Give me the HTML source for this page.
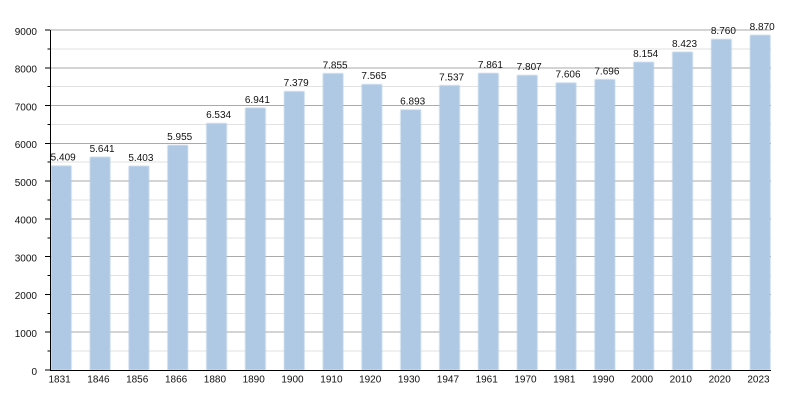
<!DOCTYPE html>
<html>
<head>
<meta charset="utf-8">
<style>
html,body{margin:0;padding:0;background:#fff;}
svg{display:block;}
text{font-family:"Liberation Sans",Arial,sans-serif;font-size:10px;fill:#111;}
</style>
</head>
<body>
<svg width="800" height="400" viewBox="0 0 800 400" xmlns="http://www.w3.org/2000/svg">
<defs>
<filter id="soft" x="-10%" y="-2%" width="120%" height="104%">
<feGaussianBlur stdDeviation="0.5"/>
</filter>
</defs>
<!-- minor gridlines -->
<g stroke="#e2e2e2" stroke-width="1" shape-rendering="crispEdges">
<line x1="50" x2="771" y1="351.1" y2="351.1"/>
<line x1="50" x2="771" y1="313.3" y2="313.3"/>
<line x1="50" x2="771" y1="275.6" y2="275.6"/>
<line x1="50" x2="771" y1="237.8" y2="237.8"/>
<line x1="50" x2="771" y1="200.0" y2="200.0"/>
<line x1="50" x2="771" y1="162.2" y2="162.2"/>
<line x1="50" x2="771" y1="124.4" y2="124.4"/>
<line x1="50" x2="771" y1="86.7" y2="86.7"/>
<line x1="50" x2="771" y1="48.9" y2="48.9"/>
</g>
<!-- major gridlines -->
<g stroke="#aaaaaa" stroke-width="1" shape-rendering="crispEdges">
<line x1="50" x2="771" y1="332.2" y2="332.2"/>
<line x1="50" x2="771" y1="294.4" y2="294.4"/>
<line x1="50" x2="771" y1="256.7" y2="256.7"/>
<line x1="50" x2="771" y1="218.9" y2="218.9"/>
<line x1="50" x2="771" y1="181.1" y2="181.1"/>
<line x1="50" x2="771" y1="143.3" y2="143.3"/>
<line x1="50" x2="771" y1="105.6" y2="105.6"/>
<line x1="50" x2="771" y1="67.8" y2="67.8"/>
<line x1="50" x2="771" y1="30" y2="30"/>
</g>
<!-- bars -->
<g fill="#afc9e4" filter="url(#soft)">
<rect x="51" y="165.66" width="20.5" height="204.34"/>
<rect x="89.83" y="156.90" width="20.5" height="213.10"/>
<rect x="128.66" y="165.89" width="20.5" height="204.11"/>
<rect x="167.49" y="145.03" width="20.5" height="224.97"/>
<rect x="206.32" y="123.16" width="20.5" height="246.84"/>
<rect x="245.15" y="107.78" width="20.5" height="262.22"/>
<rect x="283.98" y="91.24" width="20.5" height="278.76"/>
<rect x="322.81" y="73.26" width="20.5" height="296.74"/>
<rect x="361.64" y="84.21" width="20.5" height="285.79"/>
<rect x="400.47" y="109.60" width="20.5" height="260.40"/>
<rect x="439.30" y="85.27" width="20.5" height="284.73"/>
<rect x="478.13" y="73.03" width="20.5" height="296.97"/>
<rect x="516.96" y="75.07" width="20.5" height="294.93"/>
<rect x="555.79" y="82.66" width="20.5" height="287.34"/>
<rect x="594.62" y="79.26" width="20.5" height="290.74"/>
<rect x="633.45" y="61.96" width="20.5" height="308.04"/>
<rect x="672.28" y="51.80" width="20.5" height="318.20"/>
<rect x="711.11" y="39.07" width="20.5" height="330.93"/>
<rect x="749.94" y="34.91" width="20.5" height="335.09"/>
</g>
<!-- axes -->
<g stroke="#000" stroke-width="1" shape-rendering="crispEdges">
<line x1="50.5" x2="50.5" y1="30" y2="370.5"/>
<line x1="50" x2="771" y1="370.5" y2="370.5"/>
<!-- major ticks -->
<line x1="45" x2="50" y1="370" y2="370"/>
<line x1="45" x2="50" y1="332.2" y2="332.2"/>
<line x1="45" x2="50" y1="294.4" y2="294.4"/>
<line x1="45" x2="50" y1="256.7" y2="256.7"/>
<line x1="45" x2="50" y1="218.9" y2="218.9"/>
<line x1="45" x2="50" y1="181.1" y2="181.1"/>
<line x1="45" x2="50" y1="143.3" y2="143.3"/>
<line x1="45" x2="50" y1="105.6" y2="105.6"/>
<line x1="45" x2="50" y1="67.8" y2="67.8"/>
<line x1="45" x2="50" y1="30" y2="30"/>
<!-- minor ticks -->
<line x1="47.5" x2="50" y1="351.1" y2="351.1"/>
<line x1="47.5" x2="50" y1="313.3" y2="313.3"/>
<line x1="47.5" x2="50" y1="275.6" y2="275.6"/>
<line x1="47.5" x2="50" y1="237.8" y2="237.8"/>
<line x1="47.5" x2="50" y1="200.0" y2="200.0"/>
<line x1="47.5" x2="50" y1="162.2" y2="162.2"/>
<line x1="47.5" x2="50" y1="124.4" y2="124.4"/>
<line x1="47.5" x2="50" y1="86.7" y2="86.7"/>
<line x1="47.5" x2="50" y1="48.9" y2="48.9"/>
</g>
<!-- y labels -->
<g text-anchor="end">
<text x="37" y="375">0</text>
<text x="37" y="337">1000</text>
<text x="37" y="299.2">2000</text>
<text x="37" y="261.5">3000</text>
<text x="37" y="223.7">4000</text>
<text x="37" y="185.9">5000</text>
<text x="37" y="148.1">6000</text>
<text x="37" y="110.4">7000</text>
<text x="37" y="72.6">8000</text>
<text x="37" y="34.8">9000</text>
</g>
<!-- x labels -->
<g text-anchor="middle">
<text x="59.6" y="382.5">1831</text>
<text x="98.4" y="382.5">1846</text>
<text x="137.2" y="382.5">1856</text>
<text x="176.1" y="382.5">1866</text>
<text x="214.9" y="382.5">1880</text>
<text x="253.7" y="382.5">1890</text>
<text x="292.5" y="382.5">1900</text>
<text x="331.4" y="382.5">1910</text>
<text x="370.2" y="382.5">1920</text>
<text x="409.0" y="382.5">1930</text>
<text x="447.9" y="382.5">1947</text>
<text x="486.7" y="382.5">1961</text>
<text x="525.5" y="382.5">1970</text>
<text x="564.3" y="382.5">1981</text>
<text x="603.2" y="382.5">1990</text>
<text x="642.0" y="382.5">2000</text>
<text x="680.8" y="382.5">2010</text>
<text x="719.7" y="382.5">2020</text>
<text x="758.5" y="382.5">2023</text>
</g>
<!-- value labels -->
<g text-anchor="middle">
<text x="63.2" y="160.7">5.409</text>
<text x="102.1" y="151.9">5.641</text>
<text x="140.9" y="160.9">5.403</text>
<text x="179.7" y="140.0">5.955</text>
<text x="218.6" y="118.2">6.534</text>
<text x="257.4" y="102.8">6.941</text>
<text x="296.2" y="86.2">7.379</text>
<text x="335.1" y="68.3">7.855</text>
<text x="373.9" y="79.2">7.565</text>
<text x="412.7" y="104.6">6.893</text>
<text x="451.6" y="80.3">7.537</text>
<text x="490.4" y="68.0">7.861</text>
<text x="529.2" y="70.1">7.807</text>
<text x="568.0" y="77.7">7.606</text>
<text x="606.9" y="74.3">7.696</text>
<text x="645.7" y="57.0">8.154</text>
<text x="684.5" y="46.8">8.423</text>
<text x="723.4" y="34.1">8.760</text>
<text x="762.2" y="29.9">8.870</text>
</g>
</svg>
</body>
</html>
